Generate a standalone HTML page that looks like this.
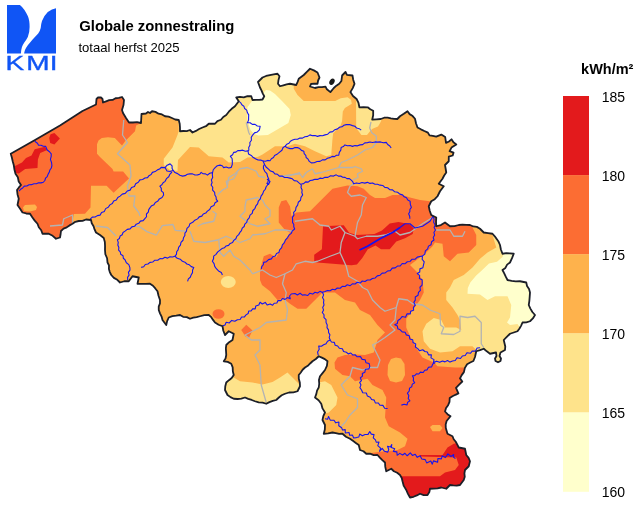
<!DOCTYPE html><html><head><meta charset="utf-8"><title>Globale zonnestraling</title>
<style>html,body{margin:0;padding:0;background:#fff}body{width:640px;height:507px;position:relative;overflow:hidden;font-family:"Liberation Sans",sans-serif;color:#000}
.t{position:absolute;white-space:nowrap;line-height:1}
.b{font-weight:bold;font-size:14.67px}.n{font-size:13.33px}
</style></head><body>
<svg width="640" height="507" viewBox="0 0 640 507" style="position:absolute;left:0;top:0">
<defs><clipPath id="be"><polygon points="10.75,153.75 35,140 60,125.5 82.5,111 96,104.5 96.5,99 98,97.5 101,97.5 102.5,99 103,102.5 106.1,101.35 109.2,100.2 112.56,99.95 115.5,98.26 118.85,97.96 122,97 124,100 123.5,105 122,110 123,113 126,118 129,122.5 133.01,122.48 137.03,122.22 141,123 141.26,118.5 141.5,114 146,113.5 148,112 150,113 152,111.25 155.48,111.9 158.53,113.66 161.97,114.44 165,116.25 168.59,116.63 171.9,118.02 175.19,119.5 178.75,120 179.69,123.69 179.97,127.46 180,131.25 183.36,131.01 186.74,131.04 190,130 192.5,132.5 195.88,130.93 199.1,129.04 202.5,127.5 205.97,126.2 208.75,123.75 215,123.75 217.42,121.06 220.93,119.77 223.26,116.95 226.25,115 228.81,111.73 231.7,108.79 235,106.25 238.75,101.25 236.25,97.5 239.98,96.92 243.79,97.32 247.46,96.12 251.25,96.25 252.5,100 255.84,99.95 259.18,99.86 262.5,99.5 264.25,96.25 262.67,93.41 261.48,90.39 260,87.5 258,82 262.5,77.5 266.1,75.97 269.85,75.03 273.65,74.29 277.5,73.75 279.5,76.25 278.5,79.95 278,83.75 280,86.25 283.31,85.32 286.6,84.33 290,83.75 296.25,85 297.61,81.92 298.75,78.75 303.75,75 306.83,71.83 310,68.75 313.88,70.37 317.5,72.5 319.5,77.5 318.11,80.5 317.5,83.75 314.24,83.6 311,84 310,86.5 315,88 318.45,87.18 322.01,87.17 325.5,86.6 326.9,89.3 330.4,92.1 333.8,88 336.36,85.69 339.22,83.72 341.4,81 342.1,75.5 345.5,72 346.9,74.8 352.5,75.5 353.19,79.73 354.5,83.8 352.72,88.08 350.4,92.1 353,96 356.6,99 358.51,102.98 359.4,107.3 363.55,107.19 367.7,107.3 370.26,109.31 373.2,110.7 373.18,115.25 372.2,119.7 376.5,119.33 380.8,119 384.13,117.72 387.7,117.7 390.87,118.37 394.05,118.93 397.3,119 400,116.25 403.81,113.84 407.5,111.25 409.63,114.12 412.68,116.07 415,118.75 415.99,123.2 417.5,127.5 420.91,129.32 424.38,131 427.9,132.6 429.5,135.4 432.86,135.94 436.2,136.6 441.3,134.6 445.2,137 446,142.9 449.01,141.5 451.5,139.3 453.45,142.28 456.3,144.4 451.5,147.6 449.6,151.2 453.5,152.7 452.7,155.5 448.8,156.7 448.75,161.25 445,165 445.66,168.74 446.25,172.5 444.18,175.51 442.5,178.75 438.75,183.75 443.75,186.25 440,191.25 437.5,196.25 434.76,199.23 431.25,201.25 428.75,206.25 429.73,210.7 431.25,215 436.25,217.5 436.04,221.88 436.25,226.25 440.9,225.01 445,222.5 450,226.25 454.44,226.07 458.75,225 462.5,224.7 466.25,224.84 470,225 473.25,226.47 476.9,226.87 480,228.75 483.75,232.5 488.13,233.07 492.5,233.75 494.76,236.3 496.7,239.08 498.64,241.84 500,245 500.89,249.48 502.5,253.75 506.25,253.23 510,253.4 513.75,253.75 512.02,258.19 510,262.5 507.13,264.63 505.42,267.92 502.5,270 504.23,273.3 505.77,276.7 507.5,280 511.61,280.95 515.79,281.28 520,281.25 526.25,282.5 527.02,286.01 529.04,289.06 530,292.5 529.7,296.68 529.36,300.85 528.75,305 530.38,308.62 532.37,312.01 535,315 532.88,318.43 530,321.25 526.32,322.32 522.5,322.5 521.16,325.6 519.49,328.52 517.5,331.25 513.76,332.52 510,333.75 506.79,336.79 503.75,340 504.5,343.29 505.27,346.58 505,350 500.5,352.5 499.5,356 501,358.5 500.5,361 498,362.3 495.5,361 495,358.5 496.5,356 496,352.5 490,353.75 486.8,351.34 483.75,348.75 480.06,350.17 476.25,351.25 475,357 473.4,361 470.21,362.52 467.1,364.2 464.91,367.91 463.9,372.1 461.72,375.11 460,378.4 462.3,381.5 459.13,384.68 456,387.9 458.4,393.4 455.42,394.82 452.48,396.32 449.7,398.1 449.51,401.79 448.1,405.2 446.05,408.1 445,411.5 447.5,414.15 450.5,416.2 446.6,421 445.68,424.44 445.8,428 447.5,433.75 452.5,436.25 453.7,439.27 455.76,441.8 457.31,444.62 458.75,447.5 465,448.75 466.25,455 468.6,457.84 470,461.25 468.75,466.25 465,470 464.4,473.31 464.77,476.74 463.75,480 460,485 456.67,485.61 453.33,485.41 450,485 446.25,488.75 441.25,487.5 437.55,488.39 433.77,488.56 430,488.75 429.33,492.11 427.5,495 423.63,495.07 420,493.75 416.84,495.46 413.53,496.77 410,497.5 407.95,493.84 406.25,490 403.76,485.89 402.5,481.25 401.74,477.93 400,475 397.18,472.79 393.88,471.23 391.25,468.75 386.25,471.25 385.28,466.92 385,462.5 382.35,460.15 379.87,457.63 377.5,455 373.69,455.11 370.05,453.68 366.25,453.75 363.48,451.28 360,450 358.75,445 355.81,442.96 352.9,440.85 350,438.75 345.93,436.73 342.5,433.75 339.1,433.89 335.81,433.14 332.5,432.5 328.17,433.45 323.75,433.75 324.83,429.44 325,425 322.5,420 323.3,416.1 325,412.5 322.51,408.39 321.25,403.75 318.57,400.18 315,397.5 316.29,394.18 317.04,390.66 318.75,387.5 319.23,383.76 318.93,379.93 320,376.25 322.53,373.15 325,370 326.89,365.81 327.5,361.25 324.84,359.14 321.8,357.68 318.75,356.25 315.83,359.01 312.5,361.25 310.12,363.48 307.8,365.77 305,367.5 302.62,369.76 300.8,372.47 298.75,375 298.78,378.79 299.82,382.47 300,386.25 297.5,391.25 293.41,392.46 289.08,392.49 285,393.75 281.69,395.28 278.88,397.51 276.25,400 272.77,400.85 269.43,402.08 266.25,403.75 262.57,402.59 258.67,402.46 255,401.25 251.68,399.98 248.26,398.94 245,397.5 241.32,398.57 237.57,398.99 233.75,398.75 230.47,397.14 227.5,395 225,390 225.29,386.19 226.25,382.5 228.94,380.19 231.7,377.95 233.75,375 232.84,371.27 232.68,367.37 231.25,363.75 227.72,361.85 223.75,361.25 225.59,358.36 226.25,355 226.06,351.67 225.86,348.33 226.25,345 229.14,342.2 232.5,340 233.75,333.75 228.75,331.25 225,335 223.34,330.74 222.5,326.25 218.56,324.75 215,322.5 213.05,319.89 211.26,317.14 208.75,315 204.31,315.15 200,316.25 196.67,317.11 193.28,317.71 190,318.75 186.81,317.11 183.13,316.79 180,315 176.2,315.61 172.38,316.11 168.75,317.5 167.13,321.13 166.25,325 162.5,320 161.58,316.54 159.97,313.34 158.75,310 158.72,306.61 159.98,303.38 160,300 158.52,295.69 157.5,291.25 155.3,288.45 152.97,285.78 150,283.75 145.83,283.9 141.67,283.89 137.5,283.75 138.75,277.5 132.5,276.25 128.75,281.25 124.29,281.26 120,282.5 117.29,279.76 113.87,277.85 111.25,275 109.81,272.03 108.91,268.89 108.98,265.46 107.5,262.5 107.09,258.25 105.35,254.26 105,250 105.04,245.95 104.84,241.93 103.75,238 100,235.07 96,232.5 94.56,229.45 93.56,226.22 91.77,223.32 91,220 86,219.5 82.51,220.92 78.75,221 75.36,221.77 72.5,223.75 69.51,225.39 66.73,227.34 63.55,228.67 61,231 60.59,234.26 60,237.5 56,238.75 52.67,235.82 48.75,233.75 42.5,233.75 41.24,230.21 38.8,227.26 37.5,223.75 34.72,220.63 32.27,217.26 30,213.75 26.19,213.48 22.5,212.5 20.1,208.68 17.5,205 18.75,198.75 17.54,194.44 17,190 18.91,187.43 21,185 18.7,181.48 17.85,177.25 15.5,173.75 14.42,169.42 13.75,165 12.69,161.27 11.86,157.47"/></clipPath></defs>
<g clip-path="url(#be)">
<rect x="0" y="60" width="560" height="447" fill="#feb24c"/>
<polygon fill="#fc6d33" points="0,80 141,80 141,123 136.1,125.4 135,131.3 125.5,140.7 122,145.5 114.8,138 108,137.3 101.8,138 98.5,140.5 97,144.3 97,153.7 100,157 112.5,169 113.6,171.5 123.1,171.5 129,178.6 113.6,192.8 106.6,185.7 91,185.7 90.5,207.5 85,213.75 73.75,214 72.5,222 73,226 62,245 0,245"/>
<polygon fill="#feb24c" points="23,207.5 25,205 35,204.5 37,207 36,210 30,211.5 24,211"/>
<polygon fill="#fc6d33" points="278.75,207.5 281.25,201.25 286.25,200 290,206.25 291.5,216.25 296.25,212.5 310,211.25 321.25,200 332.5,188.75 347.5,185.5 357.5,186.25 363.75,188.75 370,195 375,198 385,198 392.5,195 402.5,195 410,197.5 420,200 430,201.25 445,201 445,220 472.5,222 472.5,227.5 476.25,235 476.25,245 468.75,252.5 457.5,253.75 450,261.25 443.75,256.25 442.5,243.75 435,242.5 432.5,246.25 425,253.75 415,261.25 410,265 417.5,272.5 422.5,280 423.75,292.5 420,300 412.5,310 406.25,318.75 406.25,327.5 411.25,338.75 417.5,350 422.5,357.5 433.75,362.5 437.5,366.25 455,367.5 463.75,367.5 480,367 480,505 366,505 366.25,453.75 375,452.5 385,451.25 397.5,450 405,446.25 407.5,438.75 400,432.5 388.75,426.25 385,417.5 386.25,397.5 382.5,390 372.5,385 367.5,378.75 355,381.25 350,376.25 342.5,375 335,368.75 334.5,362.5 337.5,357.5 345,355 355,354.5 365,355 373.75,352.5 377.5,340 385,332.5 377.5,325 370,315 360,310 355,302.5 345,300 335,292.5 322.5,292.5 313.75,301.25 306.25,308.75 297.5,308.75 290,303.75 283.75,298.75 277.5,300 270,291.25 262,285 260,280 260,270 263.75,256.25 270,253.75 276.25,257.5 283.75,242.5 290,232.5 285,230 278.75,222.5"/>
<polygon fill="#feb24c" points="388,365 391,359 396,357.5 401,358.5 404.5,364 405,375 402,381 396,382.5 390,381 387.5,375"/>
<polygon fill="#feb24c" points="430,427 432.5,425 440,425 442.5,428 440,431.25 432.5,431.25"/>
<polygon fill="#e31a1c" points="50.5,134.2 54.4,132.9 59.9,138.6 54.4,144.4 50.2,142.9 49.2,138.1"/>
<polygon fill="#e31a1c" points="14,166.5 22,162.6 26,157.9 31.5,155.5 34.7,149.2 45,146.8 47.3,150 40.2,153.1 37.9,159.4 37.5,168.1 25.2,168.9 18.9,173.6 14,172.8"/>
<polygon fill="#e31a1c" points="323,226.25 343.75,225.2 349.2,232.8 356.9,235 374.4,233.9 382,230.6 389.7,223.6 398.4,221.9 409.4,224.1 413.8,228.4 412.7,233.9 405,238.3 396.3,241.6 389.7,249.2 381,249.2 375.5,245.5 367.8,249.2 362.3,258 356.9,264.5 351.4,265.2 314.2,262.3 314.2,254.7 321.9,249.2"/>
<polygon fill="#e31a1c" points="458,443 453.75,443.75 447.5,447.5 442.5,455 420,455 420,456.5 456.25,457.5 458.75,465 455,470 445,472.5 440,476.25 402.5,476.25 395,476 395,505 480,505 480,443"/>
<polygon fill="#fee38b" points="178.75,131 178,60 293.75,60 293.75,88.75 297.5,95 303.75,101 335.2,101 340.7,98.3 347.6,97.3 351,99.7 351.8,103.8 344.9,108 342.8,111.4 342.1,121.1 340.7,125.2 336.6,129.4 333.1,133.5 332.4,140 331.25,155 326.25,156.25 315,151.25 305,146.25 295,143.75 287.5,146.25 282.5,146.25 275,146.25 262.5,154.5 257.5,157 247.5,157.5 240,162 228.75,162.5 222.5,157.5 208.75,156.25 198.75,147.5 190,147 178,160 177.5,171 170,170 163.75,165 163.75,158.75 172.5,147.5 177.5,135"/>
<polygon fill="#ffffcc" points="252,101 257,99.5 263,97 264,92 266,90 270,90.5 275,94 282,101 289.6,108.9 290.8,115 288.4,123 277.3,129.4 267.9,135 258.4,135.5 254,134 250.5,130 248.5,124 247.3,118 247.4,107.3"/>
<polygon fill="#fee38b" points="356,100 356.2,128 361.4,135 367,135 370.4,130.8 372.5,128.7 378,126.6 380.8,121.8 384,112 375,98"/>
<polygon fill="#fee38b" points="492.5,235 496.25,247.5 487.5,252.5 480,258.75 472.5,267.5 463.75,275 453.75,280 450,287.5 446.25,292.5 446.25,300 452.5,307.5 457.5,315 460,320 461.25,330 456.25,327.5 445,327.5 441.25,320 433.75,318 426.25,323.75 422.5,331.25 423.75,341.25 430,348.75 440,352.5 452.5,351.25 460,346.25 472.5,346.25 476.25,350 478,375 560,375 560,228 493,228"/>
<polygon fill="#ffffcc" points="502.5,257 497,261.8 489,263.6 481.2,271 476.2,275.5 470.3,282.5 467.8,288 467.5,293.75 480,294.5 487.5,300 495,296.25 507.5,296.25 511.25,305 510,317.5 507,322.5 510,325 517.5,324 520,327.5 545,327 545,250 505,250"/>
<polygon fill="#fee38b" points="233.75,377.5 240,381.25 252.5,382.5 262.5,384.5 272.5,382 280,377.5 287.5,372.5 293.75,378.75 298.75,383.75 305,385 305,410 220,410 220,378"/>
<polygon fill="#fee38b" points="318.75,382.5 325,381.25 331.25,385 337.5,397.5 336.25,405 328.75,412.5 325,413.5 312,412 310,395 314,383"/>
<polygon fill="#fc6d33" points="241.25,330 246.25,324.8 252.5,330.5 248.75,338.2 245.5,336.5"/>
<ellipse fill="#fee38b" cx="228.25" cy="282" rx="7.5" ry="6"/>
<ellipse fill="#fc6d33" cx="218.5" cy="314" rx="6" ry="4.8"/>
<g fill="none" stroke="#b3b3b3" stroke-width="1.3" stroke-linejoin="round">
<polyline points="123.75,120 122.5,135 127.5,142.5 117.5,153.75 130,165 131,176 127.5,186 128.75,196 135,196 133.75,206 138.75,212.5 140,216"/>
<polyline points="50,226 62.5,225 63.75,218.75 72.5,215 72.5,223.75"/>
<polyline points="96,226 107.5,227.5 116,236"/>
<polyline points="135,226 139.8,226.8 146.9,231.6 156.4,235.1 162.3,225.7 173,224.5 175.3,230.4 186.25,231.25"/>
<polyline points="246.25,122.5 248.75,132.5 250,135"/>
<polyline points="227.5,185 228.75,177.5 235,173.75 240,168.75 247.5,167.5 256.25,171.25 258.75,176.25 265,177.5"/>
<polyline points="287.5,176.25 300,172.5"/>
<polyline points="371,121.8 369.7,128 371.8,132.8 376.25,136 376.25,142.5 372.5,147.5 365,150 357.5,155 347.5,160 341.25,162.5 338.75,167.5 330,170 321.25,172.5 315,173.75 312.5,168.75 306.25,172.5 302.5,177.5 300,173.75 290,175 280,176.5"/>
<polyline points="338.75,167.5 352.5,167.5 355,166.5 361.25,168.75 362.5,171.25 357.5,173.75 358,177.5 352.5,180"/>
<polyline points="190,231.25 193.75,241.25 205,242.5 217.5,240 226.25,236.25 235,240 240,242.5 250,238.75 252.5,235 265,233.75 275,230 285,230 292.5,231.25"/>
<polyline points="197.5,226.25 202.5,223.75 213.75,221.25 216.25,213.75 212.5,211.25"/>
<polyline points="217.5,195 222.5,190 227.5,187.5 226.25,181.25 233.75,178.75 237.5,172.5"/>
<polyline points="245,206.25 246.25,200 257.5,197.5 262.5,200 265,205 270,210 270,216.25 265,218.75 270,223.75 257.5,226.25 250,223.75 240,216.25 245,211.25 245,206.25"/>
<polyline points="218.75,240 220,252.5 223.75,256.25 230,250 233.75,256.25 240,260 245,265 250,270 252.5,273.75 262.5,270 270,275 276.25,277.5 285,273.75 292.5,270 296.25,263.75 305,261.25 312.5,262.5 317.5,261.25 330,256.25 340,252.5 341.25,242.5 345,232.5"/>
<polyline points="285,273.75 282.5,283.75 286.25,292.5 285,300 287.5,310 286.25,320 276.25,321.25 266.25,322.5 260,327.5 252.5,331.25 245,335 251.25,340 260,340 260,350 255,355 260,365 261.25,385 266.25,402.5"/>
<polyline points="295,221.25 312.5,218.75 320,225 328.75,226.25 331.25,230 340,226.25 345,232.5 355,236.25 357.5,238.75 366.25,236.25 377.5,236.25 385,235 395,231.25 400,235 410,232.5 422.5,223.75 432.5,217.5"/>
<polyline points="355,236.25 357.5,222.5 361.25,215 362.5,205 366.25,197.5 360,195 351.25,196.25 347.5,192.5 350,186.25 353.75,183.75"/>
<polyline points="340,252.5 346.25,266.25 348.75,276.25 357.5,281.25 362.5,287.5 367.5,290 372.5,300 380,307.5 385,311.25 396.25,307.5 398.75,298.75 407.5,300 412.5,303.75 422.5,305 430,310 440,313.75 440.5,325 443.75,327.5 441.25,333.75 453.75,334.5 460,331.25 460,316.25 467.5,317.5 475,316.25 481.25,322.5 481.25,343.75 483.75,347.5"/>
<polyline points="396.25,307.5 395,320 390,325 395,330 385,337.5 377.5,342.5 372.5,345 376.25,352.5 380,360 377.5,367.5 370,367.5 362.5,370 352.5,367.5 350,376.25 345,381 341.25,385 347.5,395 357.5,398.75 357.5,407.5 350,415 345,422.5 341.25,426.25"/>
<polyline points="436.25,230 450,230 453.75,236.25 462.5,236.25 465,231.25"/>
</g>
<g fill="none" stroke="#1414f0" stroke-width="1.1" stroke-linejoin="round">
<polyline points="34.4,140.2 35.66,141.98 37.47,143.31 38.53,145.26 41.03,145.31 43.3,146.27 45.72,146.41 47.22,150.04 49.49,151.76 51.24,153.96 51.16,156.69 50.41,159.39 51.55,162.48 51.91,165.72 51.33,168.01 49.89,169.98 49.22,172.29 48.02,174.36 47.23,176.55 45.53,178.22 44.86,180.5 43.32,182.25 41.05,182.85 38.61,182.85 36.33,183.82 33.89,183.81 31.57,184.67 29.06,184.68 26.86,185.98 24.38,186.11 22.67,187.92 20.63,189.28 18.96,191.07"/>
<polyline points="87.5,219.5 90.21,219.2 92.29,217.11 95.09,217.06 97.4,215.63 100.05,215.14 101.59,212.59 104.38,211.38 105.63,208.63 108.26,207.26 109.89,204.89 112.33,203.57 113.67,201.03 116.32,199.96 117.79,197.57 120.1,196.11 122.28,194.14 125.21,193.35 127.22,191.04 130.08,190.13 131.54,187.54 134.45,186.45 135.67,183.67 138.3,182.3 139.89,179.89 142.61,179.51 144.92,178.08 147.55,177.64 148.98,175.65 151.14,174.47 152.39,172.39 155.17,171.59 157.43,169.87 159.6,169.08 161.17,167.38 165,167.65 167.14,165.14 170.09,163.87 172.11,165.9 172.05,168.35 173.15,170.47 174.97,172.51 177.59,173.63 179.85,175.31 182.57,176.12 185.08,175.66 187.38,174.22 190.05,173.89 192.55,173.87 194.93,175.03 197.52,174.85 199.74,174.29 201.17,172.38 203.14,173.82 205.54,173.87 207.44,175.14 209.73,173.21 212.57,172.63 213.24,169.75 215.13,167.57 217.26,165.76 220.07,165.13 222.21,165.74 223.67,167.62 226.25,166.94 228.75,168.07 231.25,167.35 232.26,164.45 232.35,161.22 232.1,158.51 230.36,156.31 232.6,154.79 233.64,152.4 235.93,152.13 237.75,150.64 240.05,150.64 242.7,150.13 245.31,151.27 248.01,150.85 248.87,150.09 248.71,147.42 250.02,145.07 249.85,142.48 251.42,140.2 251.24,137.36 252.64,135.05 254.49,132.86 257.39,131.99 259.41,129.88 260.15,126.27 257.3,125.94 255.05,124.36 252.34,124.42 250.11,122.75 247.46,122.64 248.59,120.12 248.6,117.46 248.72,114.85 247.35,112.54 246.71,110.14 244.62,108.56 243.88,106.17 241.84,104.82 240.69,102.65 238.64,101.36"/>
<polyline points="165,167.5 167,171 170,171.5 173,170.5"/>
<polyline points="172,172 169.98,174.1 168.73,176.8 166.42,178.69 165.12,181.34 163.11,182.7 161.86,184.78 159.89,186.14 161.31,188.28 161.31,190.87 163.34,192.59 163.61,195.06 162.06,197.48 159.34,198.93 157.61,201.36 155.33,202.46 153.98,204.65 151.67,205.69 150.1,207.62 148.73,209.63 148.31,212.14 146.43,214 146.53,216.74 144.86,218.69 143.17,220.66 140.4,221.13 138.75,223.31 136.22,224.15 134.56,226.31 131.84,226.87 130.08,228.87 127.26,229.34 125.06,231.14 123.04,232.41 122.22,234.78 120.12,236.08 119.4,238.53 117.38,239.9 118.26,242.44 117.81,245.04 118.87,247.45 118.6,250.02 120.24,251.85 120.72,254.33 123.01,255.68 123.35,258.25 125.13,259.92 126.36,262.71 128.84,264.66 129.88,267.58 129.97,270.09 128.41,272.38 129.08,275.12 127.56,277.41 127.65,280.03"/>
<polyline points="212.5,172.5 212.35,175 212.68,177.56 211.33,179.93 212.13,182.57 211.1,184.98 212.77,187.28 212.61,190.19 214.64,192.28 214.86,195.05 216.08,196.99 216.26,199.33 217.64,201.19 215.06,202.81 213.86,205.61 211.07,206.82 209.71,209.46 207.39,211.14 205.76,213.1 203.29,213.97 201.78,216.12 199.21,216.87 197.59,218.87 194.86,220.2 192.69,222.36 189.92,223.63 189.07,226.41 186.95,228.47 186.38,231.32 184.9,233.13 184.87,235.53 183.61,237.44 183.01,240.25 180.98,242.36 180.44,245.22 178.62,247.43 178.09,249.81 176.64,251.78 176.49,254.3 174.86,256.19 172.55,257 169.94,256.75 167.61,258.13 164.9,257.33 162.56,258.69 159.98,258.6 157.72,260.28 154.84,260.19 152.68,262.05 149.95,262.36 147.98,264.04 145.31,264.46 143.7,266.71 141.18,267.37"/>
<polyline points="175,256.25 177.25,258.29 180.26,259.2 182.43,261.35 184.92,262.19 186.86,264 189.35,264.83 191.3,266.61 193.81,267.4 192.58,269.89 192.5,272.64 191.14,274.96 190.27,277.25 188.37,278.94 187.6,281.31"/>
<polyline points="248,151 248.58,154.03 251.24,155.42 253.29,157.54 255.87,158.9 258.09,160.06 260.66,160.12 262.97,161.12 264.51,164.15 263.49,166.26 263.42,168.53 264.79,171.28 266.9,173.63 267.59,176.52 268.91,179.16 267.85,181.87 267.72,184.73 266.13,186.78 265.33,189.24 263.65,191.19 262.7,193.85 261.05,196.15 260.3,198.9 258.33,201.04 257.61,203.8 255.87,205.95 254.87,208.54 252.87,210.5 252.21,213.3 250.03,215.16 249.21,217.85 247.4,219.94 246.69,222.35 244.82,224.06 244.16,226.49 242.25,228.18 241.46,230.54 239.9,232.44 238.69,234.64 236.76,236.32 235.87,238.78 233.79,240.35 232.6,242.57 230.22,243.42 228.54,245.35 226.09,245.98 224.36,247.82 221.97,248.56 220.06,250.1 217.76,251.93 216.02,254.35 213.67,256.17 213.53,258.85 212.38,261.22 214.05,263.6 214.73,266.38 216.36,268.7 218.52,270.93 221.32,272.4 222.39,275.05"/>
<polyline points="267,179 270,181.5 268.5,184.5 266.5,183"/>
<polyline points="263,161 265.35,161.21 267.65,160.41 270.01,160.72 271.39,158.73 273.48,157.52 274.61,155.42 277.46,153.92 279.93,151.9 281.94,150.23 282.96,147.69 285.09,146.08 286.73,144.32 288.99,143.29 290.38,141.19 292.57,140.09 294.96,139.29 297.56,139.32 299.92,138.08 302.52,138.12 304.87,136.68 307.66,136.4 309.96,134.89 312.46,135.66 315.05,135.56 317.48,136.37 319.96,135.6 322.56,135.77 324.98,134.88 327.72,134.19 329.83,132.15 332.7,131.65 334.86,129.71 337.55,128.86 339.5,127.29 341.98,126.83 343.93,125.3 346.3,124.61 349.44,124.59 352.48,125.62 354.89,126.24 356.72,128.05 359.17,128.67 361.2,130.11"/>
<polyline points="285,146.25 287.33,147.84 290.05,148.64 292.56,148.67 294.94,147.54 297.52,147.62 299.72,148.52 301.43,150.39 303.81,151.15 304.15,153.51 305.8,155.26 306.14,157.54 308.1,159.16 309.31,161.41 311.34,162.92 314.23,162.72 317.03,161.56 320.02,161.37 322.32,159.84 325.18,159.86 327.42,158.24 330.04,157.61 332.06,156.42 334.48,156.63 336.47,155.32 338.78,155.12 339.31,152.41 340.81,150.13 341.14,147.46 343.32,146.54 344.93,144.9 347.43,145.83 350.07,145.43 352.48,146.37 354.96,145.59 357.57,145.86 359.98,144.88 362.66,144.65 364.84,142.85 367.54,142.61 369.98,141.98 372.51,142.46 374.99,141.92 377.51,142.12 380.43,141.92 383.3,142.83 386.26,142.38 387.7,144.53 389.82,145.95 391.16,148.08"/>
<polyline points="264.4,164.2 266.06,167.02 268.52,169.21 270.51,171.06 273.17,171.87 274.87,173.86 277.53,174.3 279.32,176.13 282.12,176.09 284.57,177.54 287.33,177.45 289.98,178.15 292.34,178.84 294.17,180.65 296.79,180.93 298.68,182.63 301.36,184.89 301,187.57 302.16,189.96 301.82,192.55 302.65,194.98 300.99,197.37 300.51,200.26 298.28,202.26 297.63,205.07 296.01,207.38 295.58,210.29 293.62,212.43 293.96,215.1 292.41,217.42 292.65,220.02 292.52,222.36 293.81,224.43 293.75,226.81 294.65,228.97 292.39,230.83 291.21,233.42 289,235.17 287.62,237.6 285.54,239.81 284.38,242.65 282.38,244.92 281.64,247.69 279.62,249.81 278.88,252.57 276.5,253.61 275.29,255.98 272.8,256.8 271.35,258.87 268.55,259.6 266.48,261.71 263.68,262.37 263.32,264.74 261.75,266.53 261.39,268.81"/>
<polyline points="301.25,184 303.65,183.61 305.58,181.92 308.17,182.09 310.15,180.51 312.55,180.14 314.95,179.25 317.58,179.39 319.93,178.15 322.61,178.56 324.97,177.35 327.93,177.39 330.52,175.77 333.54,176.09 336.22,174.85 338.3,176.12 340.71,175.95 342.7,177.28 345.04,177.36 346.97,178.63 349.39,178.6 351.19,180.14 352.73,181.72 353.63,183.83 356.45,182.92 359.28,183.53 361.95,182.48 364.78,183.13 367.49,182.35 369.92,183.4 372.62,182.92 374.95,184.25 377.55,184.23 379.97,185.15 382.73,185.43 384.83,187.42 387.61,187.73 389.76,189.6 392.56,189.86 394.72,191.81 397.63,192.24 399.81,194.13 402.57,194.87 404.18,196.8 406.49,197.84 407.81,200.07 410.1,201.13 410.32,204.44 411.4,207.47 409.93,209.39 409.83,211.77 408.61,213.69 409.68,216.17 409.85,218.79"/>
<polyline points="400,227.5 405,223.75 410,223.75 415,228 422.5,226.25 430,221.25 433,216.25"/>
<polyline points="431.25,213.75 432.83,216.37 434.07,219.08 433.61,222.25 435.2,224.95 434.08,227.44 435.46,230.07 433.87,232.46 434.66,235.04 433.2,237.44 433.96,240.02 431.6,241.77 431.05,244.68 428.47,246.14 427.67,248.87 425.36,250.93 424.82,254.19 422.33,256.13 420,256.46 417.31,257.13 415.21,259.17 412.12,259.24 410.09,261.44 407.3,261.74 405.18,263.71 402.2,263.51 400.26,265.9 397.42,266.06 395.19,267.89 392.21,268.16 390.32,270.65 387.41,271.06 385.2,272.9 382.18,273.11 380.09,275.19 377.31,275.88 375.24,277.98 372.41,278.56 370.13,279.96 367.35,279.98 365.07,281.45 362.28,281 360.14,283.06 357.28,282.25 355.05,283.95 352.36,283.8 350.17,285.67 347.3,284.81 345.05,286.45 342.27,286.36 340.13,288.27 337.29,288.04 335.06,289.7 332.38,289.24 330.08,290.82 327.43,290.42 325.04,291.46 322.41,292.31 323.65,294.9 322.49,297.58 323.89,299.94 323.54,302.53 324.04,305.07 322.66,307.44 323.6,310.1 322.29,312.47 324.03,314.78 323.99,317.64 326.07,319.72 326.05,322.57 327.26,324.9 327.01,327.62 328.48,329.91 328.55,332.55 329.92,334.87 329.18,337.57 330.21,339.97 327.51,341.16 326.08,343.65 323.62,344.84 321.4,346.23 318.7,346.05 319.23,349.23 317.6,352.03 318.21,355.02"/>
<polyline points="322.5,292.5 320,291.36 317.5,292.96 315,292.23 312.74,294.08 309.86,293.2 307.78,295.5 304.93,294.74 302.44,295.15 300.13,293.3 297.38,295 295.03,293.48 291.25,294.02 289.59,295.99 290.26,298.82 287.5,297.58 285,299.37 282.5,298.48 280.87,300.59 277.99,300.44 276.85,303.05 274.16,303.21 272.64,305.23 270.12,303.9 267.29,305.05 265.21,302.44 262.3,304 260.05,302.24 258.81,304.96 255.8,305.97 255.21,308.92 252.61,308.82 251.06,310.99 248.65,311 248.15,313.56 246.03,314.85 244.44,316.9 241.62,317.06 240.11,319.49 237.37,319.77 234.84,321.32 231.69,320.41 229.31,322.97 226.19,322.24 225.02,325.02 222.31,326.06"/>
<polyline points="422.5,256.25 422.14,259.28 424.21,261.96 423.45,265.04 422.87,267.67 419.93,268.88 419.74,272.04 417.26,273.58 419.64,275.43 419.39,278.48 422.13,279.81 422.24,282.65 422.04,285.18 419.93,287.24 420.41,290.27 418.47,292.39 418.05,295.27 415.27,297.01 415.27,300.13 413.85,302.38 415.28,305.19 413.45,307.45 413.58,310.23 410.65,311.31 410.26,313.9 406.96,313.91 405.51,317.28 402.04,316.58 400.13,319.02 397.93,320.51 397.34,323.46 394.77,324.81 397.37,325.96 397.81,328.85 400.21,329.79 402.2,331.86 405.13,332.23 406.35,334.9 409.25,335.75 409.83,338.92 412.71,339.79 413.07,342.57 415.73,343.96 415.37,347.07 417.76,348.6 419.6,350.78 422.73,349.72 424.91,351.53 427.36,352.04 428.51,354.85 431.4,354.74 430.98,357.87 433.99,359.64 433.47,362.59 436.54,361.17 439.68,362.35 442.46,360.95 445,361.87 447.5,360.51 450,362.12 452.5,360.95 455.25,360.49 457.03,357.8 460.48,358.47 462.37,355.98 465.23,355.46 466.97,352.7 470.4,353.3 472.37,350.98 475.55,351.1 477.11,347.96 480.13,347.77"/>
<polyline points="435.2,362.8 432.74,364.03 431.62,366.86 428.48,367.3 427.14,369.86 424.7,370.27 423.2,372.45 420.45,372.11 418.79,373.99 416.4,373.82 414.7,375.59 412.43,375.7 413.52,378.1 413.29,380.66 414.7,382.74 412.32,384.13 411.67,386.79 409.54,388.16 409.23,391 407.41,393.12 408.81,395.59 408.21,398.49 409.9,400.74 407.57,402.35 407.07,405.02 404.15,404.33 401.4,405.11"/>
<polyline points="330,340 331.5,342.01 334.34,342.41 335.18,345.22 337.67,346.04 339.34,348.29 342.34,348.72 343.59,351.59 346.41,352.28 348.22,353.89 350.84,353 352.64,354.99 355.07,354.74 357.22,356.82 360.42,356.65 362.19,359.36 365.12,359.76 365.94,362.67 369.13,363.53 369.79,366.42 368.88,368.88 365.45,369.2 364.81,372.31 362.31,373.56 362.47,376.11 360.31,377.86 361.46,380.55 359.74,382.43 361,384.9 359.91,387.65 361.52,389.96 362.74,392.69 366.31,392.95 367.42,396.08 370.18,397.3 371.6,399.53 374.27,400.14 375.31,402.92 378.37,403.01 379.84,405.22 382.94,405.38 384.63,408.25 387.62,408.51"/>
<polyline points="325,418.75 327.57,419.23 328.55,416.5 330.24,420.11 334.02,420.24 335.76,422.83 338.91,422.08 338.76,425.81 341.66,427.81 342.55,430.08 345.21,429.6 345.29,433.04 349.11,432.56 349.68,435.32 352.48,435.16 353.71,437.96 356.44,437.59 358.86,436.97 359.69,434.08 362.36,435.83 365.05,434.55 368.06,434.36 369.76,431.52 371.31,434.13 374.04,434.65 373.27,437.78 375.44,439.89 376.25,442.18 379,442.13 377.75,445.62 380.57,448.19 379.55,451.31 382.18,448.43 384.5,451.29 387.77,452.14 388.74,449.45 387.55,446.21 390.38,446.96 391.76,444.57 391.35,447.43 394.7,448.7 393.32,451.38 396.84,451.91 397.18,455.32 399.79,453.35 402.64,455.02 404.93,453.31 407.23,455.77 410.27,452.95 412.43,455.44 415.2,454.21 417.25,457.35 420.07,455.81 421.83,459.01 425.27,459.64 426.67,462.9 430.78,460.93 432.3,464.15 433.48,460.89 437.64,462.27 437.88,458.43 441.34,458.87 442.23,455.89 445.49,457.56 447.94,453.92 451.07,456.52 453.7,454.55 453.51,457.16 455.43,458.61"/>
<polyline stroke-width="1.8" points="359.5,250 367.5,246.25 380,238.75 392.5,232.5 400,227.5"/>
</g>
</g>
<polygon fill="none" stroke="#1c1f28" stroke-width="1.8" stroke-linejoin="round" points="10.75,153.75 35,140 60,125.5 82.5,111 96,104.5 96.5,99 98,97.5 101,97.5 102.5,99 103,102.5 106.1,101.35 109.2,100.2 112.56,99.95 115.5,98.26 118.85,97.96 122,97 124,100 123.5,105 122,110 123,113 126,118 129,122.5 133.01,122.48 137.03,122.22 141,123 141.26,118.5 141.5,114 146,113.5 148,112 150,113 152,111.25 155.48,111.9 158.53,113.66 161.97,114.44 165,116.25 168.59,116.63 171.9,118.02 175.19,119.5 178.75,120 179.69,123.69 179.97,127.46 180,131.25 183.36,131.01 186.74,131.04 190,130 192.5,132.5 195.88,130.93 199.1,129.04 202.5,127.5 205.97,126.2 208.75,123.75 215,123.75 217.42,121.06 220.93,119.77 223.26,116.95 226.25,115 228.81,111.73 231.7,108.79 235,106.25 238.75,101.25 236.25,97.5 239.98,96.92 243.79,97.32 247.46,96.12 251.25,96.25 252.5,100 255.84,99.95 259.18,99.86 262.5,99.5 264.25,96.25 262.67,93.41 261.48,90.39 260,87.5 258,82 262.5,77.5 266.1,75.97 269.85,75.03 273.65,74.29 277.5,73.75 279.5,76.25 278.5,79.95 278,83.75 280,86.25 283.31,85.32 286.6,84.33 290,83.75 296.25,85 297.61,81.92 298.75,78.75 303.75,75 306.83,71.83 310,68.75 313.88,70.37 317.5,72.5 319.5,77.5 318.11,80.5 317.5,83.75 314.24,83.6 311,84 310,86.5 315,88 318.45,87.18 322.01,87.17 325.5,86.6 326.9,89.3 330.4,92.1 333.8,88 336.36,85.69 339.22,83.72 341.4,81 342.1,75.5 345.5,72 346.9,74.8 352.5,75.5 353.19,79.73 354.5,83.8 352.72,88.08 350.4,92.1 353,96 356.6,99 358.51,102.98 359.4,107.3 363.55,107.19 367.7,107.3 370.26,109.31 373.2,110.7 373.18,115.25 372.2,119.7 376.5,119.33 380.8,119 384.13,117.72 387.7,117.7 390.87,118.37 394.05,118.93 397.3,119 400,116.25 403.81,113.84 407.5,111.25 409.63,114.12 412.68,116.07 415,118.75 415.99,123.2 417.5,127.5 420.91,129.32 424.38,131 427.9,132.6 429.5,135.4 432.86,135.94 436.2,136.6 441.3,134.6 445.2,137 446,142.9 449.01,141.5 451.5,139.3 453.45,142.28 456.3,144.4 451.5,147.6 449.6,151.2 453.5,152.7 452.7,155.5 448.8,156.7 448.75,161.25 445,165 445.66,168.74 446.25,172.5 444.18,175.51 442.5,178.75 438.75,183.75 443.75,186.25 440,191.25 437.5,196.25 434.76,199.23 431.25,201.25 428.75,206.25 429.73,210.7 431.25,215 436.25,217.5 436.04,221.88 436.25,226.25 440.9,225.01 445,222.5 450,226.25 454.44,226.07 458.75,225 462.5,224.7 466.25,224.84 470,225 473.25,226.47 476.9,226.87 480,228.75 483.75,232.5 488.13,233.07 492.5,233.75 494.76,236.3 496.7,239.08 498.64,241.84 500,245 500.89,249.48 502.5,253.75 506.25,253.23 510,253.4 513.75,253.75 512.02,258.19 510,262.5 507.13,264.63 505.42,267.92 502.5,270 504.23,273.3 505.77,276.7 507.5,280 511.61,280.95 515.79,281.28 520,281.25 526.25,282.5 527.02,286.01 529.04,289.06 530,292.5 529.7,296.68 529.36,300.85 528.75,305 530.38,308.62 532.37,312.01 535,315 532.88,318.43 530,321.25 526.32,322.32 522.5,322.5 521.16,325.6 519.49,328.52 517.5,331.25 513.76,332.52 510,333.75 506.79,336.79 503.75,340 504.5,343.29 505.27,346.58 505,350 500.5,352.5 499.5,356 501,358.5 500.5,361 498,362.3 495.5,361 495,358.5 496.5,356 496,352.5 490,353.75 486.8,351.34 483.75,348.75 480.06,350.17 476.25,351.25 475,357 473.4,361 470.21,362.52 467.1,364.2 464.91,367.91 463.9,372.1 461.72,375.11 460,378.4 462.3,381.5 459.13,384.68 456,387.9 458.4,393.4 455.42,394.82 452.48,396.32 449.7,398.1 449.51,401.79 448.1,405.2 446.05,408.1 445,411.5 447.5,414.15 450.5,416.2 446.6,421 445.68,424.44 445.8,428 447.5,433.75 452.5,436.25 453.7,439.27 455.76,441.8 457.31,444.62 458.75,447.5 465,448.75 466.25,455 468.6,457.84 470,461.25 468.75,466.25 465,470 464.4,473.31 464.77,476.74 463.75,480 460,485 456.67,485.61 453.33,485.41 450,485 446.25,488.75 441.25,487.5 437.55,488.39 433.77,488.56 430,488.75 429.33,492.11 427.5,495 423.63,495.07 420,493.75 416.84,495.46 413.53,496.77 410,497.5 407.95,493.84 406.25,490 403.76,485.89 402.5,481.25 401.74,477.93 400,475 397.18,472.79 393.88,471.23 391.25,468.75 386.25,471.25 385.28,466.92 385,462.5 382.35,460.15 379.87,457.63 377.5,455 373.69,455.11 370.05,453.68 366.25,453.75 363.48,451.28 360,450 358.75,445 355.81,442.96 352.9,440.85 350,438.75 345.93,436.73 342.5,433.75 339.1,433.89 335.81,433.14 332.5,432.5 328.17,433.45 323.75,433.75 324.83,429.44 325,425 322.5,420 323.3,416.1 325,412.5 322.51,408.39 321.25,403.75 318.57,400.18 315,397.5 316.29,394.18 317.04,390.66 318.75,387.5 319.23,383.76 318.93,379.93 320,376.25 322.53,373.15 325,370 326.89,365.81 327.5,361.25 324.84,359.14 321.8,357.68 318.75,356.25 315.83,359.01 312.5,361.25 310.12,363.48 307.8,365.77 305,367.5 302.62,369.76 300.8,372.47 298.75,375 298.78,378.79 299.82,382.47 300,386.25 297.5,391.25 293.41,392.46 289.08,392.49 285,393.75 281.69,395.28 278.88,397.51 276.25,400 272.77,400.85 269.43,402.08 266.25,403.75 262.57,402.59 258.67,402.46 255,401.25 251.68,399.98 248.26,398.94 245,397.5 241.32,398.57 237.57,398.99 233.75,398.75 230.47,397.14 227.5,395 225,390 225.29,386.19 226.25,382.5 228.94,380.19 231.7,377.95 233.75,375 232.84,371.27 232.68,367.37 231.25,363.75 227.72,361.85 223.75,361.25 225.59,358.36 226.25,355 226.06,351.67 225.86,348.33 226.25,345 229.14,342.2 232.5,340 233.75,333.75 228.75,331.25 225,335 223.34,330.74 222.5,326.25 218.56,324.75 215,322.5 213.05,319.89 211.26,317.14 208.75,315 204.31,315.15 200,316.25 196.67,317.11 193.28,317.71 190,318.75 186.81,317.11 183.13,316.79 180,315 176.2,315.61 172.38,316.11 168.75,317.5 167.13,321.13 166.25,325 162.5,320 161.58,316.54 159.97,313.34 158.75,310 158.72,306.61 159.98,303.38 160,300 158.52,295.69 157.5,291.25 155.3,288.45 152.97,285.78 150,283.75 145.83,283.9 141.67,283.89 137.5,283.75 138.75,277.5 132.5,276.25 128.75,281.25 124.29,281.26 120,282.5 117.29,279.76 113.87,277.85 111.25,275 109.81,272.03 108.91,268.89 108.98,265.46 107.5,262.5 107.09,258.25 105.35,254.26 105,250 105.04,245.95 104.84,241.93 103.75,238 100,235.07 96,232.5 94.56,229.45 93.56,226.22 91.77,223.32 91,220 86,219.5 82.51,220.92 78.75,221 75.36,221.77 72.5,223.75 69.51,225.39 66.73,227.34 63.55,228.67 61,231 60.59,234.26 60,237.5 56,238.75 52.67,235.82 48.75,233.75 42.5,233.75 41.24,230.21 38.8,227.26 37.5,223.75 34.72,220.63 32.27,217.26 30,213.75 26.19,213.48 22.5,212.5 20.1,208.68 17.5,205 18.75,198.75 17.54,194.44 17,190 18.91,187.43 21,185 18.7,181.48 17.85,177.25 15.5,173.75 14.42,169.42 13.75,165 12.69,161.27 11.86,157.47"/>
<ellipse cx="332" cy="81.7" rx="2.4" ry="3.4" fill="#1a1a1a" transform="rotate(30 332 81.7)"/>
<rect x="563" y="96" width="26" height="79.4" fill="#e31a1c"/>
<rect x="563" y="175.1" width="26" height="79.4" fill="#fc6d33"/>
<rect x="563" y="254.2" width="26" height="79.4" fill="#feb24c"/>
<rect x="563" y="333.3" width="26" height="79.4" fill="#fee38b"/>
<rect x="563" y="412.4" width="26" height="79.4" fill="#ffffcc"/>
<path fill="#1055f5" d="M7,5 L19.9,5 Q24.3,8.5 27.8,16.1 Q29.6,20 29.6,27 Q29.6,33 27.8,36.9 Q26.5,39.5 24.3,42.4 Q22.5,45 21.9,47.2 Q21,50 20.9,53.5 L7,53.5 Z"/>
<path fill="#1055f5" d="M56,8.2 Q52,9 47.8,12 Q44.5,15 42,21 Q41,24 40.7,27.9 Q40,31 38.2,33.4 L32.6,39.6 L27.8,45.2 Q25.5,48.5 25,50 Q24.3,52 24.1,53.5 L56,53.5 Z"/>
<g fill="#1055f5" stroke="#1055f5" stroke-width="0.7" font-family="Liberation Sans, sans-serif" font-size="19.3">
<text transform="translate(0,70.45) scale(1.45,1)" x="3.86 18.14 34.34" y="0" stroke-width="0.35">KMI</text>
</g>
<g font-family="Liberation Sans, sans-serif" fill="#000">
<text x="79.3" y="31.1" font-size="14.85" font-weight="bold">Globale zonnestraling</text>
<text x="78.4" y="51.6" font-size="13.1">totaal herfst 2025</text>
<text x="581.1" y="74" font-size="14.5" font-weight="bold">kWh/m²</text>
<text x="601.8" y="101.7" font-size="14">185</text>
<text x="601.8" y="180.8" font-size="14">180</text>
<text x="601.8" y="259.9" font-size="14">175</text>
<text x="601.8" y="339" font-size="14">170</text>
<text x="601.8" y="418.1" font-size="14">165</text>
<text x="601.8" y="497.2" font-size="14">160</text>
</g>
</svg>
</body></html>
